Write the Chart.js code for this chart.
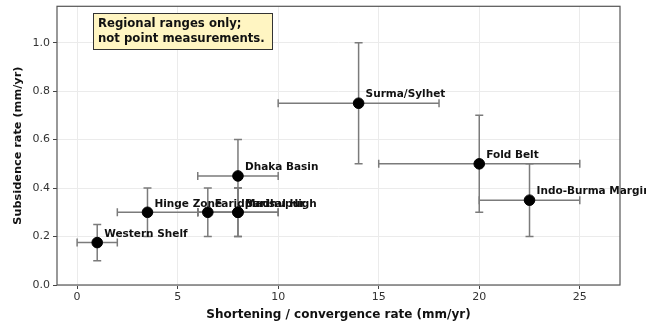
<!DOCTYPE html>
<html>
<head>
<meta charset="utf-8">
<title>Subsidence vs shortening</title>
<script src="https://cdn.jsdelivr.net/npm/chart.js"></script>
<style>
  html, body { margin: 0; padding: 0; background: #fff; }
  #wrap { width: 646px; height: 326px; }
</style>
</head>
<body>
<div id="wrap"><canvas id="chart" width="646" height="326"></canvas></div>
<script>
// regions and their central estimates
const regions = ["Western Shelf", "Hinge Zone", "Faridpur", "Madhupur", "Barisal High",
                 "Dhaka Basin", "Surma/Sylhet", "Fold Belt", "Indo-Burma Margin"];
const shortening = [1, 3.5, 6.5, 8, 8, 8, 14, 20, 22.5];
const subsidence = [0.175, 0.3, 0.3, 0.3, 0.3, 0.45, 0.75, 0.5, 0.35];
// ranges
const shortLow  = [0, 2, 6, 6, 6, 6, 10, 15, 20];
const shortHigh = [2, 6, 8, 10, 10, 10, 18, 25, 25];
const subLow    = [0.1, 0.2, 0.2, 0.2, 0.2, 0.3, 0.5, 0.3, 0.2];
const subHigh   = [0.25, 0.4, 0.4, 0.4, 0.4, 0.6, 1.0, 0.7, 0.5];

const xTicks = [0, 5, 10, 15, 20, 25];
const yTicks = [0, 0.2, 0.4, 0.6, 0.8, 1.0];
const noteLines = ["Regional ranges only;", "not point measurements."];

const FONT = "'DejaVu Sans', sans-serif";

const rangeBars = {
  id: "rangeBars",
  beforeDatasetsDraw(chart) {
    const { ctx, scales: { x, y }, chartArea: a } = chart;
    ctx.save();
    ctx.beginPath();
    ctx.rect(a.left, a.top, a.right - a.left, a.bottom - a.top);
    ctx.clip();
    ctx.strokeStyle = "#7b7b7b";
    ctx.lineWidth = 1.5;
    const cap = 4;
    regions.forEach((_, i) => {
      const px = x.getPixelForValue(shortening[i]);
      const py = y.getPixelForValue(subsidence[i]);
      const x0 = x.getPixelForValue(shortLow[i]), x1 = x.getPixelForValue(shortHigh[i]);
      const y0 = y.getPixelForValue(subLow[i]), y1 = y.getPixelForValue(subHigh[i]);
      ctx.beginPath();
      ctx.moveTo(x0, py); ctx.lineTo(x1, py);
      ctx.moveTo(x0, py - cap); ctx.lineTo(x0, py + cap);
      ctx.moveTo(x1, py - cap); ctx.lineTo(x1, py + cap);
      ctx.moveTo(px, y0); ctx.lineTo(px, y1);
      ctx.moveTo(px - cap, y0); ctx.lineTo(px + cap, y0);
      ctx.moveTo(px - cap, y1); ctx.lineTo(px + cap, y1);
      ctx.stroke();
    });
    ctx.restore();
  },
  afterDatasetsDraw(chart) {
    const { ctx, scales: { x, y } } = chart;
    // region names, not clipped (the last one runs off the canvas)
    ctx.save();
    ctx.fillStyle = "#111";
    ctx.font = "bold 10.5px " + FONT;
    ctx.textBaseline = "middle";
    ctx.textAlign = "left";
    regions.forEach((name, i) => {
      const px = x.getPixelForValue(shortening[i]);
      const py = y.getPixelForValue(subsidence[i]);
      ctx.fillText(name, px + 7, py - 8.5);
    });
    ctx.restore();

    // note box
    ctx.save();
    ctx.font = "bold 11.7px " + FONT;
    const bx = 93, by = 13, bw = 179, bh = 36;
    ctx.fillStyle = "#fff5c2";
    ctx.fillRect(bx, by, bw, bh);
    ctx.strokeStyle = "#333";
    ctx.lineWidth = 1;
    ctx.strokeRect(bx + 0.5, by + 0.5, bw, bh);
    ctx.fillStyle = "#111";
    ctx.textBaseline = "middle";
    ctx.fillText(noteLines[0], 98, 24);
    ctx.fillText(noteLines[1], 98, 38.5);
    ctx.restore();
  },
  afterDraw(chart) {
    const { ctx, chartArea: a } = chart;
    ctx.save();
    ctx.strokeStyle = "#555";
    ctx.lineWidth = 1.2;
    ctx.strokeRect(a.left, a.top, a.right - a.left, a.bottom - a.top);
    ctx.restore();
  }
};

new Chart(document.getElementById("chart"), {
  type: "scatter",
  data: {
    datasets: [{
      data: shortening.map((v, i) => ({ x: v, y: subsidence[i] })),
      backgroundColor: "#000",
      borderColor: "#000",
      pointRadius: 5.3,
      pointHoverRadius: 5.3
    }]
  },
  options: {
    responsive: false,
    animation: false,
    layout: { padding: { left: 0, right: 26, top: 5, bottom: 0 } },
    plugins: { legend: { display: false }, tooltip: { enabled: false } },
    scales: {
      x: {
        type: "linear", min: -1, max: 27,
        afterBuildTicks: s => { s.ticks = xTicks.map(v => ({ value: v })); },
        afterFit: s => { s.height = 41; s.paddingLeft = 0; s.paddingRight = 0; },
        grid: { color: "#ebebeb", tickColor: "#444", tickLength: 4 },
        border: { display: false },
        ticks: { color: "#333", font: { family: FONT, size: 11 }, padding: 2 },
        title: { display: true, text: "Shortening / convergence rate (mm/yr)", color: "#111",
                 font: { family: FONT, size: 12, weight: "bold" }, padding: { top: 0 } }
      },
      y: {
        type: "linear", min: 0, max: 1.15,
        afterBuildTicks: s => { s.ticks = yTicks.map(v => ({ value: v })); },
        afterFit: s => { s.width = 57; s.paddingTop = 0; s.paddingBottom = 0; },
        grid: { color: "#ebebeb", tickColor: "#444", tickLength: 4 },
        border: { display: false },
        ticks: { color: "#333", font: { family: FONT, size: 11 }, padding: 3,
                 callback: v => v.toFixed(1) },
        title: { display: true, text: "Subsidence rate (mm/yr)", color: "#111",
                 font: { family: FONT, size: 11.3, weight: "bold" }, padding: { top: 11, bottom: 0 } }
      }
    }
  },
  plugins: [rangeBars]
});
</script>
</body>
</html>
